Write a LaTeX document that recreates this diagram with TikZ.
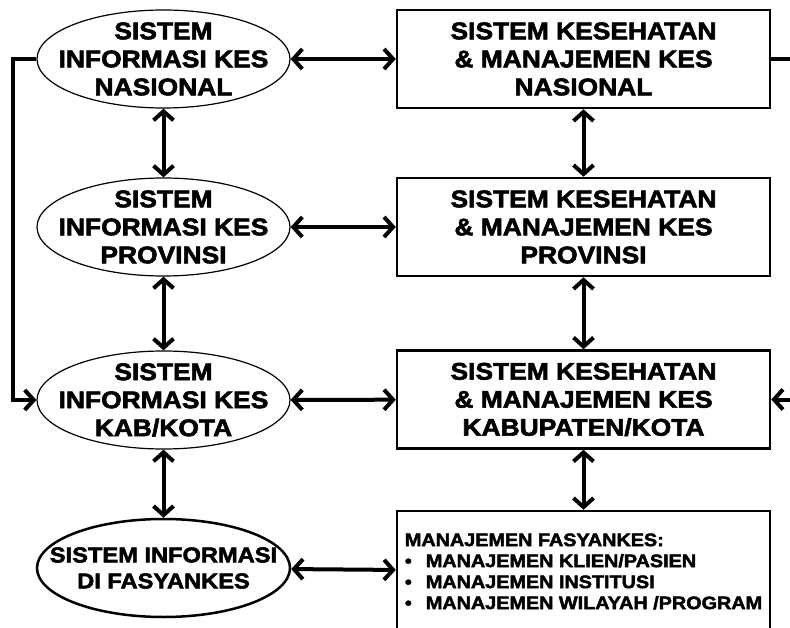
\documentclass[tikz,border=0pt]{standalone}
\usepackage{fontspec}
\setmainfont{Liberation Sans}[BoldFeatures={FakeStretch=1.1, FakeBold=2.5}]
\usetikzlibrary{arrows.meta, shapes.geometric}

\begin{document}
\begin{tikzpicture}[
            x = 1pt, y = -1pt, % pixel units, y going down
            > = {Straight Barb[length=9pt, width=20pt]}, % arrow head style
            font = \bfseries\fontsize{24}{28}\selectfont
        ]

        \tikzstyle{sistem}=[
            ellipse,
            draw = black,
            line width = 1.2pt,
            fill = white,
            minimum width = 253pt,
            minimum height = 98pt,
            inner sep = -40pt, % keep the ellipse at its minimum size
            align = center
        ]
        \tikzstyle{kotak}=[
            rectangle,
            draw = black,
            line width = 2.5pt,
            minimum width = 373pt,
            minimum height = 98pt,
            inner sep = 0pt,
            align = center
        ]
        \tikzstyle{panah}=[draw = black, line width = 4pt]
        \tikzstyle{every edge}=[panah]

        \useasboundingbox (0,0) rectangle (790,628);
        \clip (0,0) rectangle (790,628);

        % sistem informasi
        \node[sistem] (sn) at (163.5,59) {SISTEM\\INFORMASI KES\\NASIONAL};
        \node[sistem] (sp) at (163.5,227) {SISTEM\\INFORMASI KES\\PROVINSI};
        \node[sistem] (sk) at (163.5,400) {SISTEM\\INFORMASI KES\\KAB/KOTA};
        \node[sistem, line width=2.5pt, font=\bfseries\fontsize{21.5}{26}\selectfont] (sf) at (163.5,568) {SISTEM INFORMASI\\DI FASYANKES};

        % sistem kesehatan & manajemen
        \node[kotak] (kn) at (583.5,59) {SISTEM KESEHATAN\\\& MANAJEMEN KES\\NASIONAL};
        \node[kotak] (kp) at (583.5,227) {SISTEM KESEHATAN\\\& MANAJEMEN KES\\PROVINSI};
        \node[kotak] (kk) at (583.5,399.5) {SISTEM KESEHATAN\\\& MANAJEMEN KES\\KABUPATEN/KOTA};
        \node[kotak, minimum height=121pt, align=left,
              font=\bfseries\fontsize{18}{21}\selectfont] (mf) at (583.5,571.5)
            {MANAJEMEN FASYANKES:\\
             \makebox[21pt][l]{\textbullet}MANAJEMEN KLIEN/PASIEN\\
             \makebox[21pt][l]{\textbullet}MANAJEMEN INSTITUSI\\
             \makebox[21pt][l]{\textbullet}MANAJEMEN WILAYAH /PROGRAM};

        \path[<->] (sn) edge (kn);
        \path[<->] (sp) edge (kp);
        \path[<->] (sk) edge (kk);
        \path[<->] (sf) edge (mf);
        \path[<->] (sn) edge (sp);
        \path[<->] (sp) edge (sk);
        \path[<->] (sk) edge (sf);
        \path[<->] (kn) edge (kp);
        \path[<->] (kp) edge (kk);
        \path[<->] (kk) edge (mf);

        % side loops
        \coordinate (kiri) at (13,0);
        \coordinate (kanan) at (800,0);
        \draw[panah, ->] (sn.west) -- (sn.west -| kiri) |- (sk.west);
        \draw[panah, ->] (kn.east) -- (kn.east -| kanan) |- (kk.east);
     \end{tikzpicture}
\end{document}
